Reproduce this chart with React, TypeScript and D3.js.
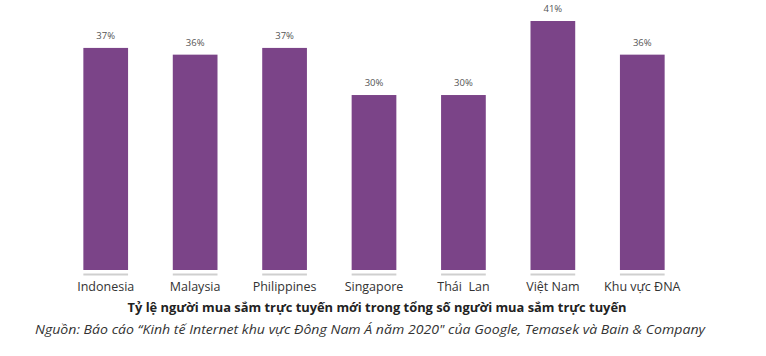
import React from "react";
import * as d3 from "d3";

const categories = ["Indonesia", "Malaysia", "Philippines", "Singapore", "Thái  Lan", "Việt Nam", "Khu vực ĐNA"];
const values = [37, 36, 37, 30, 30, 41, 36];
const valueLabels = ["37%", "36%", "37%", "30%", "30%", "41%", "36%"];
const title = "Tỷ lệ người mua sắm trực tuyến mới trong tổng số người mua sắm trực tuyến";
const source = "Nguồn: Báo cáo “Kinh tế Internet khu vực Đông Nam Á năm 2020\" của Google, Temasek và Bain & Company";

const W = 766;
const H = 356;
const FONT = "'Open Sans', 'Noto Sans', sans-serif";

export default function App() {
  const x = d3.scaleBand<string>().domain(categories).range([61, 687]).paddingInner(0.5).paddingOuter(0.25);
  const y = d3.scaleLinear().domain([4, 41]).range([270, 21]);
  const bw = x.bandwidth();
  return (
    <svg width={W} height={H} style={{ position: "absolute", left: 0, top: 0, background: "#fff" }}>
      {categories.map((c, i) => {
        const x0 = x(c)!;
        const yt = y(values[i]);
        return (
          <g key={c}>
            <rect x={x0} y={yt} width={bw} height={y(4) - yt} fill="#7b4488" />
            <rect x={x0} y={273.5} width={bw} height={2} fill="#cfcfcf" />
            <text x={x0 + bw / 2} y={yt - 9} textAnchor="middle" fontFamily={FONT} fontSize={9.5} fill="#555">
              {valueLabels[i]}
            </text>
            <text x={x0 + bw / 2} y={291} textAnchor="middle" fontFamily={FONT} fontSize={12.5} fill="#333" style={{ whiteSpace: "pre" }}>
              {c}
            </text>
          </g>
        );
      })}
      <text x={377} y={312} textAnchor="middle" fontFamily={FONT} fontSize={12} fontWeight="bold" fill="#222" textLength={499} lengthAdjust="spacingAndGlyphs">
        {title}
      </text>
      <text x={370} y={334} textAnchor="middle" fontFamily={FONT} fontSize={13.5} fontStyle="italic" fill="#333" textLength={670} lengthAdjust="spacingAndGlyphs">
        {source}
      </text>
    </svg>
  );
}
